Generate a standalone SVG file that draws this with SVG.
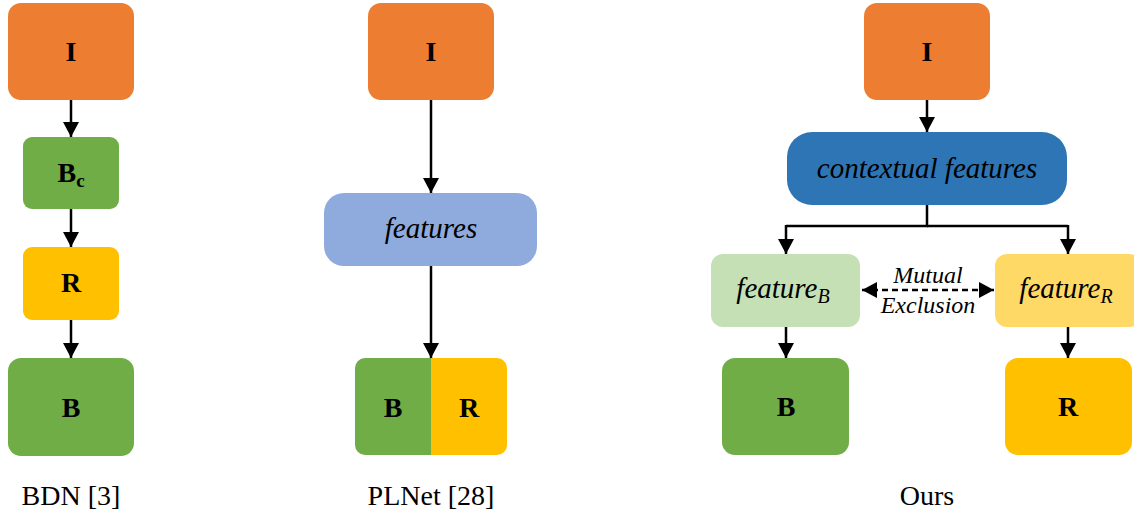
<svg xmlns="http://www.w3.org/2000/svg" width="1134" height="515" viewBox="0 0 1134 515">
<defs>
<marker id="ah" viewBox="0 0 15 16" refX="15" refY="8" markerWidth="15" markerHeight="16" markerUnits="userSpaceOnUse" orient="auto-start-reverse">
<path d="M0,0 L15,8 L0,16 z" fill="#000"/>
</marker>
<style>
text{font-family:'Liberation Serif',serif;fill:#000;text-anchor:middle}
.lbl{font-weight:bold;font-size:28px}
.it{font-style:italic;font-size:29px}
.cap{font-size:28px}
.me{font-style:italic;font-size:24px}
.c{stroke:#000;stroke-width:2.5;fill:none;marker-end:url(#ah)}
.orange{fill:#ED7D31}.green{fill:#70AD47}.yellow{fill:#FFC000}
</style>
</defs>
<rect width="1134" height="515" fill="#fff"/>
<g id="connectors">
<line class="c" x1="71" y1="100" x2="71" y2="137"/>
<line class="c" x1="71" y1="209" x2="71" y2="247"/>
<line class="c" x1="71" y1="320" x2="71" y2="358"/>
<line class="c" x1="431" y1="100" x2="431" y2="193"/>
<line class="c" x1="431" y1="266" x2="431" y2="358"/>
<line class="c" x1="927" y1="100" x2="927" y2="132"/>
<polyline points="927,205 927,226 786,226" fill="none" stroke="#000" stroke-width="2.5"/>
<polyline points="927,226 1068,226" fill="none" stroke="#000" stroke-width="2.5"/>
<line class="c" x1="786" y1="225" x2="786" y2="254"/>
<line class="c" x1="1068" y1="225" x2="1068" y2="254"/>
<line class="c" x1="786" y1="327" x2="786" y2="358"/>
<line class="c" x1="1068" y1="327" x2="1068" y2="358"/>
<line x1="862" y1="290" x2="994" y2="290" stroke="#000" stroke-width="2.5" stroke-dasharray="6,4" fill="none" marker-start="url(#ah)" marker-end="url(#ah)"/>
</g>
<g id="bdn-I"><rect class="orange" x="8" y="3" width="126" height="97" rx="13"/><text class="lbl" x="71" y="61">I</text></g>
<g id="bdn-Bc"><rect class="green" x="23" y="137" width="96" height="72" rx="9"/><text class="lbl" x="71" y="182">B<tspan font-size="19" dy="5">c</tspan></text></g>
<g id="bdn-R"><rect class="yellow" x="23" y="247" width="96" height="73" rx="9"/><text class="lbl" x="71" y="292">R</text></g>
<g id="bdn-B"><rect class="green" x="8" y="358" width="126" height="98" rx="13"/><text class="lbl" x="71" y="417">B</text></g>
<g id="bdn-caption"><text class="cap" x="71" y="505">BDN [3]</text></g>
<g id="pl-I"><rect class="orange" x="368" y="3" width="126" height="97" rx="13"/><text class="lbl" x="431" y="61">I</text></g>
<g id="pl-features"><rect x="324" y="193" width="213" height="73" rx="20" fill="#8FAADC"/><text class="it" x="431" y="238">features</text></g>
<g id="pl-BR">
<path class="green" d="M431,358 H365 a10,10 0 0 0 -10,10 V445 a10,10 0 0 0 10,10 H431 z"/>
<path class="yellow" d="M431,358 H497 a10,10 0 0 1 10,10 V445 a10,10 0 0 1 -10,10 H431 z"/>
<text class="lbl" x="393" y="417">B</text><text class="lbl" x="469" y="417">R</text>
</g>
<g id="pl-caption"><text class="cap" x="431" y="505">PLNet [28]</text></g>
<g id="ours-I"><rect class="orange" x="864" y="3" width="126" height="97" rx="13"/><text class="lbl" x="927" y="61">I</text></g>
<g id="ours-ctx"><rect x="787" y="132" width="280" height="73" rx="25" fill="#2E75B6"/><text class="it" x="927" y="178">contextual features</text></g>
<g id="ours-fB"><rect x="711" y="254" width="149" height="73" rx="12" fill="#C5E0B4"/><text class="it" x="783" y="298" font-size="30">feature<tspan font-size="20" dy="5">B</tspan></text></g>
<g id="ours-fR"><rect x="995" y="254" width="146" height="73" rx="12" fill="#FFD966"/><text class="it" x="1066" y="298" font-size="30">feature<tspan font-size="20" dy="5">R</tspan></text></g>
<g id="ours-me"><text class="me" x="928" y="283">Mutual</text><text class="me" x="928" y="313">Exclusion</text></g>
<g id="ours-B"><rect class="green" x="722" y="358" width="127" height="97" rx="13"/><text class="lbl" x="786" y="416">B</text></g>
<g id="ours-R"><rect class="yellow" x="1005" y="358" width="127" height="97" rx="13"/><text class="lbl" x="1068" y="416">R</text></g>
<g id="ours-caption"><text class="cap" x="927" y="505">Ours</text></g>
</svg>
